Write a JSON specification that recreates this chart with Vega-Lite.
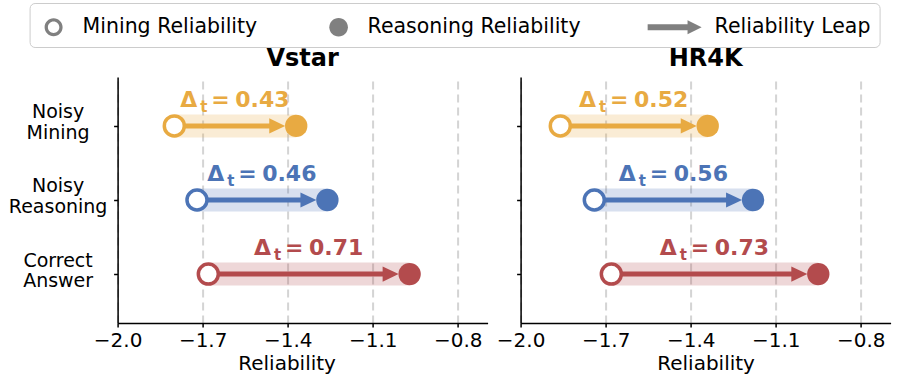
{
  "$schema": "https://vega.github.io/schema/vega-lite/v6.json",
  "padding": {"left": 7.6, "top": 2, "right": 5, "bottom": 0},
  "spacing": 8,
  "datasets": {
    "d": [
      {"panel": "Vstar", "cond": "Noisy Mining", "start": -1.80, "end": -1.37, "label": "0.43"},
      {"panel": "Vstar", "cond": "Noisy Reasoning", "start": -1.72, "end": -1.26, "label": "0.46"},
      {"panel": "Vstar", "cond": "Correct Answer", "start": -1.68, "end": -0.97, "label": "0.71"},
      {"panel": "HR4K", "cond": "Noisy Mining", "start": -1.86, "end": -1.34, "label": "0.52"},
      {"panel": "HR4K", "cond": "Noisy Reasoning", "start": -1.74, "end": -1.18, "label": "0.56"},
      {"panel": "HR4K", "cond": "Correct Answer", "start": -1.68, "end": -0.95, "label": "0.73"}
    ]
  },
  "config": {
    "font": "DejaVu Sans",
    "view": {"stroke": null},
    "axis": {"domainColor": "black", "domainWidth": 1.5, "tickColor": "black", "tickWidth": 1.5, "tickSize": 4, "labelFont": "DejaVu Sans", "labelFontSize": 20, "labelColor": "black", "titleFont": "DejaVu Sans", "titleFontSize": 20, "titleFontWeight": "normal", "titleColor": "black"},
    "title": {"font": "DejaVu Sans", "fontSize": 24, "fontWeight": "bold", "color": "black", "offset": 6}
  },
  "hconcat": [
    {
      "title": "Vstar",
      "width": 370,
      "height": 246,
      "data": {"name": "d"},
      "transform": [{"filter": "datum.panel === 'Vstar'"}],
      "encoding": {
        "y": {"field": "cond", "type": "nominal", "title": null,
              "scale": {"type": "point", "domain": ["Noisy Mining", "Noisy Reasoning", "Correct Answer"], "padding": 0.66},
              "axis": {"title": null, "labelExpr": "split(datum.label, ' ')", "labelAlign": "center", "labelBaseline": "middle", "labelPadding": 56, "labelFontSize": 19, "labelLineHeight": 20.5, "labelOffset": -14, "grid": false}},
        "color": {"field": "cond", "type": "nominal", "legend": null,
                  "scale": {"domain": ["Noisy Mining", "Noisy Reasoning", "Correct Answer"], "range": ["#E8AA42", "#4C74B6", "#B34B4D"]}}
      },
      "layer": [
        {"mark": {"type": "rule", "strokeWidth": 23, "opacity": 0.22, "strokeCap": "butt"},
         "encoding": {
           "x": {"field": "start", "type": "quantitative", "title": "Reliability",
                 "scale": {"domain": [-2.0, -0.695], "nice": false, "zero": false},
                 "axis": {"values": [-2.0, -1.7, -1.4, -1.1, -0.8], "format": ".1f", "grid": true, "gridDash": [8, 5], "gridColor": "#d4d4d4", "gridWidth": 2, "labelPadding": 4, "titlePadding": 3, "labelFlush": false, "labelOverlap": false, "titleX": 169}},
           "x2": {"field": "end"}}},
        {"mark": {"type": "rule", "strokeWidth": 5, "x2Offset": -26, "strokeCap": "butt"},
         "encoding": {"x": {"field": "start", "type": "quantitative", "title": "Reliability"}, "x2": {"field": "end"}}},
        {"mark": {"type": "point", "shape": "M-1,-0.95L1,0L-1,0.95Z", "size": 256, "filled": true, "opacity": 1, "xOffset": -19},
         "encoding": {"x": {"field": "end", "type": "quantitative", "title": "Reliability"}}},
        {"mark": {"type": "point", "shape": "circle", "size": 400, "filled": false, "fill": "white", "fillOpacity": 1, "strokeWidth": 3.5, "opacity": 1},
         "encoding": {"x": {"field": "start", "type": "quantitative", "title": "Reliability"}}},
        {"mark": {"type": "point", "shape": "circle", "size": 500, "filled": true, "opacity": 1},
         "encoding": {"x": {"field": "end", "type": "quantitative", "title": "Reliability"}}},
        {"transform": [{"fold": ["start", "end"], "as": ["k", "v"]}],
         "mark": {"type": "text", "align": "left", "baseline": "alphabetic", "dx": -55, "dy": -19, "fontSize": 22, "fontWeight": "bold"},
         "encoding": {"x": {"aggregate": "mean", "field": "v", "type": "quantitative", "title": "Reliability"}, "text": {"value": "Δ"}}},
        {"transform": [{"fold": ["start", "end"], "as": ["k", "v"]}],
         "mark": {"type": "text", "align": "left", "baseline": "alphabetic", "dx": -35, "dy": -14, "fontSize": 15, "fontWeight": "bold"},
         "encoding": {"x": {"aggregate": "mean", "field": "v", "type": "quantitative", "title": "Reliability"}, "text": {"value": "t"}}},
        {"transform": [{"fold": ["start", "end"], "as": ["k", "v"]}],
         "mark": {"type": "text", "align": "left", "baseline": "alphabetic", "dx": -24, "dy": -19, "fontSize": 22, "fontWeight": "bold"},
         "encoding": {"x": {"aggregate": "mean", "field": "v", "type": "quantitative", "title": "Reliability"}, "text": {"value": "="}}},
        {"transform": [{"fold": ["start", "end"], "as": ["k", "v"]}],
         "mark": {"type": "text", "align": "left", "baseline": "alphabetic", "dx": 0, "dy": -19, "fontSize": 22, "fontWeight": "bold"},
         "encoding": {"x": {"aggregate": "mean", "field": "v", "type": "quantitative", "title": "Reliability"}, "text": {"field": "label", "type": "nominal"}}},
        {"mark": {"type": "point", "opacity": 0, "filled": true},
         "encoding": {
           "x": {"field": "start", "type": "quantitative", "title": "Reliability"},
           "color": {"value": "#808080"},
           "shape": {"datum": "Mining Reliability", "type": "nominal",
                     "scale": {"domain": ["Mining Reliability", "Reasoning Reliability", "Reliability Leap"],
                               "range": ["M0.6,0A0.6,0.6 0 1,1 -0.6,0A0.6,0.6 0 1,1 0.6,0ZM0.38,0A0.38,0.38 0 1,0 -0.38,0A0.38,0.38 0 1,0 0.38,0Z",
                                         "M0.62,0A0.62,0.62 0 1,1 -0.62,0A0.62,0.62 0 1,1 0.62,0Z",
                                         "M-2.53,-0.2L0.13,-0.2L0.13,-0.47L1.07,0L0.13,0.47L0.13,0.2L-2.53,0.2Z"]},
                     "legend": {"title": null, "orient": "none", "legendX": -88, "legendY": -74, "direction": "horizontal", "columns": 3, "columnPadding": 66, "padding": 9, "strokeColor": "#cccccc", "cornerRadius": 5, "fillColor": "white", "symbolSize": 900, "symbolStrokeWidth": 0, "symbolOpacity": 1, "symbolFillColor": "#808080", "labelOffset": 14, "labelFont": "DejaVu Sans", "labelFontSize": 20.5, "labelColor": "black", "labelBaseline": "middle", "labelLimit": 400}}
         }}
      ]
    },
    {
      "title": "HR4K",
      "width": 370,
      "height": 246,
      "data": {"name": "d"},
      "transform": [{"filter": "datum.panel === 'HR4K'"}],
      "encoding": {
        "y": {"field": "cond", "type": "nominal", "title": null,
              "scale": {"type": "point", "domain": ["Noisy Mining", "Noisy Reasoning", "Correct Answer"], "padding": 0.66},
              "axis": {"title": null, "labels": false, "grid": false}},
        "color": {"field": "cond", "type": "nominal", "legend": null,
                  "scale": {"domain": ["Noisy Mining", "Noisy Reasoning", "Correct Answer"], "range": ["#E8AA42", "#4C74B6", "#B34B4D"]}}
      },
      "layer": [
        {"mark": {"type": "rule", "strokeWidth": 23, "opacity": 0.22, "strokeCap": "butt"},
         "encoding": {
           "x": {"field": "start", "type": "quantitative", "title": "Reliability",
                 "scale": {"domain": [-2.0, -0.695], "nice": false, "zero": false},
                 "axis": {"values": [-2.0, -1.7, -1.4, -1.1, -0.8], "format": ".1f", "grid": true, "gridDash": [8, 5], "gridColor": "#d4d4d4", "gridWidth": 2, "labelPadding": 4, "titlePadding": 3, "labelFlush": false, "labelOverlap": false}},
           "x2": {"field": "end"}}},
        {"mark": {"type": "rule", "strokeWidth": 5, "x2Offset": -26, "strokeCap": "butt"},
         "encoding": {"x": {"field": "start", "type": "quantitative", "title": "Reliability"}, "x2": {"field": "end"}}},
        {"mark": {"type": "point", "shape": "M-1,-0.95L1,0L-1,0.95Z", "size": 256, "filled": true, "opacity": 1, "xOffset": -19},
         "encoding": {"x": {"field": "end", "type": "quantitative", "title": "Reliability"}}},
        {"mark": {"type": "point", "shape": "circle", "size": 400, "filled": false, "fill": "white", "fillOpacity": 1, "strokeWidth": 3.5, "opacity": 1},
         "encoding": {"x": {"field": "start", "type": "quantitative", "title": "Reliability"}}},
        {"mark": {"type": "point", "shape": "circle", "size": 500, "filled": true, "opacity": 1},
         "encoding": {"x": {"field": "end", "type": "quantitative", "title": "Reliability"}}},
        {"transform": [{"fold": ["start", "end"], "as": ["k", "v"]}],
         "mark": {"type": "text", "align": "left", "baseline": "alphabetic", "dx": -55, "dy": -19, "fontSize": 22, "fontWeight": "bold"},
         "encoding": {"x": {"aggregate": "mean", "field": "v", "type": "quantitative", "title": "Reliability"}, "text": {"value": "Δ"}}},
        {"transform": [{"fold": ["start", "end"], "as": ["k", "v"]}],
         "mark": {"type": "text", "align": "left", "baseline": "alphabetic", "dx": -35, "dy": -14, "fontSize": 15, "fontWeight": "bold"},
         "encoding": {"x": {"aggregate": "mean", "field": "v", "type": "quantitative", "title": "Reliability"}, "text": {"value": "t"}}},
        {"transform": [{"fold": ["start", "end"], "as": ["k", "v"]}],
         "mark": {"type": "text", "align": "left", "baseline": "alphabetic", "dx": -24, "dy": -19, "fontSize": 22, "fontWeight": "bold"},
         "encoding": {"x": {"aggregate": "mean", "field": "v", "type": "quantitative", "title": "Reliability"}, "text": {"value": "="}}},
        {"transform": [{"fold": ["start", "end"], "as": ["k", "v"]}],
         "mark": {"type": "text", "align": "left", "baseline": "alphabetic", "dx": 0, "dy": -19, "fontSize": 22, "fontWeight": "bold"},
         "encoding": {"x": {"aggregate": "mean", "field": "v", "type": "quantitative", "title": "Reliability"}, "text": {"field": "label", "type": "nominal"}}}
      ]
    }
  ]
}
